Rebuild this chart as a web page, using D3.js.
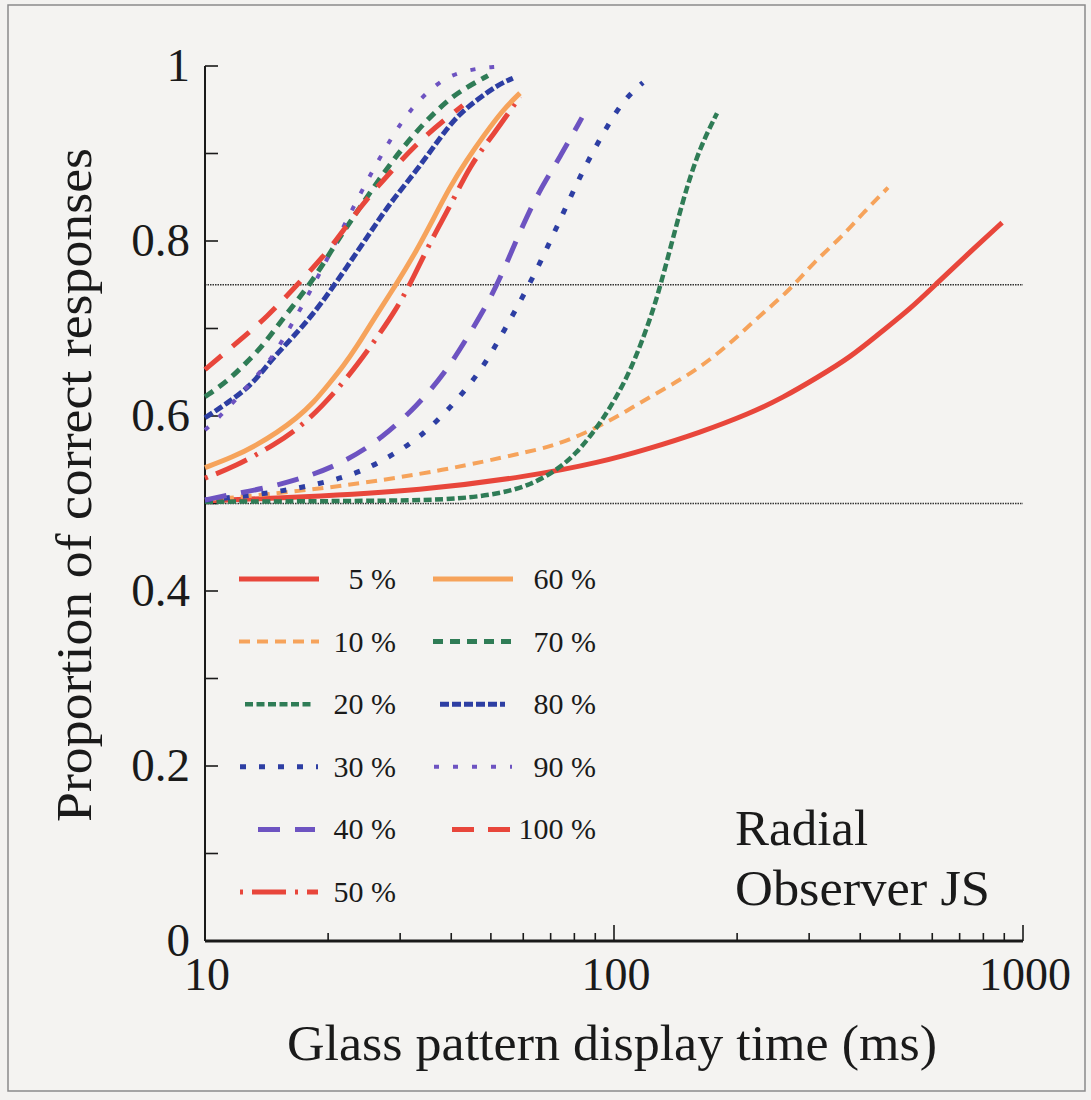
<!DOCTYPE html>
<html>
<head>
<meta charset="utf-8">
<script src="https://cdn.jsdelivr.net/npm/d3@7"></script>
<style>
  body { margin: 0; background: #f3f2f0; }
  svg text { font-family: "Liberation Serif", "DejaVu Serif", serif; fill: #1a1a1a; }
</style>
</head>
<body>
<div id="chart"></div>
<script>
// coherence levels and fitted curves (time in ms, proportion correct)
const labels = ["5 %", "10 %", "20 %", "30 %", "40 %", "50 %", "60 %", "70 %", "80 %", "90 %", "100 %"];

const t5 = [10, 17, 34, 62, 92.4, 122.5, 162, 215, 259, 314, 378, 447, 529, 620, 729, 889];
const p5 = [0.503, 0.507, 0.515, 0.531, 0.547, 0.563, 0.581, 0.603, 0.621, 0.644, 0.667, 0.695, 0.722, 0.753, 0.784, 0.821];

const t10 = [10, 20.2, 39.7, 60, 70, 84, 101.7, 122.5, 147.5, 171.7, 199.8, 231.4, 269.3, 306.6, 357.6, 406.3, 467.7];
const p10 = [0.504, 0.517, 0.539, 0.558, 0.565, 0.579, 0.599, 0.622, 0.643, 0.664, 0.690, 0.718, 0.744, 0.775, 0.803, 0.832, 0.861];

const t20 = [10, 30, 42, 53.5, 62.3, 72.5, 81.2, 88.8, 96.1, 109.4, 122.5, 129.6, 142.6, 150.8, 162.3, 178.6];
const p20 = [0.502, 0.503, 0.505, 0.512, 0.521, 0.538, 0.558, 0.581, 0.603, 0.649, 0.710, 0.747, 0.821, 0.862, 0.907, 0.946];

const t30 = [10, 15, 22.6, 27.5, 33.6, 40.9, 47.8, 53.5, 63, 72.5, 83.5, 93.5, 105.2, 117.7];
const p30 = [0.504, 0.512, 0.530, 0.550, 0.575, 0.615, 0.655, 0.695, 0.755, 0.816, 0.879, 0.921, 0.961, 0.981];

const t40 = [10, 11.5, 14.2, 17.4, 21.7, 27.2, 33.2, 38.6, 43.7, 49.8, 54.7, 59.6, 65.2, 73.8, 83.5];
const p40 = [0.504, 0.510, 0.518, 0.529, 0.546, 0.575, 0.613, 0.649, 0.689, 0.733, 0.775, 0.816, 0.855, 0.896, 0.941];

const t50 = [10, 11.8, 14.8, 17.9, 22, 25.3, 29.5, 32.3, 36.1, 39.7, 44.5, 50.6, 58.9];
const p50 = [0.529, 0.542, 0.567, 0.594, 0.640, 0.678, 0.723, 0.758, 0.805, 0.839, 0.887, 0.921, 0.965];

const t60 = [10, 11.7, 13.4, 15, 16.8, 18.4, 20.2, 21.7, 23.5, 25.8, 29.5, 33, 35.5, 39.7, 43.7, 47.8, 53.5, 58.9];
const p60 = [0.541, 0.553, 0.567, 0.581, 0.598, 0.615, 0.638, 0.656, 0.679, 0.710, 0.752, 0.790, 0.818, 0.862, 0.893, 0.919, 0.950, 0.969];

const t70 = [10, 11.3, 12.5, 13.8, 15.95, 18.4, 21.1, 24.3, 28, 33, 39.1, 43.7, 49.2];
const p70 = [0.622, 0.639, 0.659, 0.679, 0.719, 0.755, 0.801, 0.843, 0.885, 0.927, 0.961, 0.976, 0.989];

const t80 = [10, 11.2, 13, 14.4, 15.5, 17.3, 19.3, 22.2, 25.3, 28.3, 33, 38.2, 42, 46.2, 51.7, 56.6];
const p80 = [0.598, 0.613, 0.635, 0.662, 0.678, 0.702, 0.729, 0.770, 0.809, 0.843, 0.881, 0.923, 0.946, 0.961, 0.978, 0.986];

const t90 = [10, 11.1, 14.4, 15.4, 17.3, 19.3, 23.7, 26.3, 29.5, 32.1, 34.9, 38.6, 42.7, 47.8, 51.2];
const p90 = [0.584, 0.603, 0.662, 0.685, 0.726, 0.767, 0.850, 0.889, 0.929, 0.952, 0.970, 0.986, 0.994, 0.998, 0.999];

const t100 = [10, 11.7, 14.2, 17.1, 20.2, 23.9, 28.3, 34.1, 42.7];
const p100 = [0.653, 0.680, 0.713, 0.754, 0.790, 0.839, 0.878, 0.919, 0.955];

const yTicks = [0, 0.2, 0.4, 0.6, 0.8, 1];
const yMinor = [0.1, 0.3, 0.5, 0.7, 0.9];
const xTicks = [10, 100, 1000];
const refLevels = [0.5, 0.75];

const red = "#e8463b", orange = "#f6a35b", green = "#2f7c56", blue = "#2d3ea3", purple = "#6d53c1";

// leg: start / end of the legend sample line
const series = [
  { label: labels[0], t: t5, p: p5, color: red, width: 5, dash: null, leg: [239, 319] },
  { label: labels[1], t: t10, p: p10, color: orange, width: 4, dash: "11,7", leg: [239, 319] },
  { label: labels[2], t: t20, p: p20, color: green, width: 4.5, dash: "8,3.5", leg: [245, 311] },
  { label: labels[3], t: t30, p: p30, color: blue, width: 5, dash: "6,13", leg: [240, 318] },
  { label: labels[4], t: t40, p: p40, color: purple, width: 5, dash: "22,15", leg: [258, 315] },
  { label: labels[5], t: t50, p: p50, color: red, width: 5, dash: "3,9,34,9", leg: [240, 318] },
  { label: labels[6], t: t60, p: p60, color: orange, width: 5, dash: null, leg: [433, 513] },
  { label: labels[7], t: t70, p: p70, color: green, width: 5, dash: "10,7", leg: [433, 513] },
  { label: labels[8], t: t80, p: p80, color: blue, width: 5, dash: "9,3", leg: [440, 505] },
  { label: labels[9], t: t90, p: p90, color: purple, width: 4, dash: "5,14", leg: [434, 512] },
  { label: labels[10], t: t100, p: p100, color: red, width: 5, dash: "22,14", leg: [452, 511] }
];

const width = 1091, height = 1100;

const svg = d3.select("#chart").append("svg")
  .attr("width", width)
  .attr("height", height);

svg.append("rect")
  .attr("x", 8).attr("y", 5)
  .attr("width", 1077).attr("height", 1086)
  .attr("fill", "#f4f3f1")
  .attr("stroke", "#8a8a8a")
  .attr("stroke-width", 1.5);

const x = d3.scaleLog().domain([10, 1000]).range([205, 1023]);
const y = d3.scaleLinear().domain([0, 1]).range([941, 66]);

// reference lines at chance and threshold
svg.selectAll(".ref")
  .data(refLevels)
  .enter()
  .append("line")
  .attr("x1", x(10)).attr("x2", x(1000))
  .attr("y1", d => y(d)).attr("y2", d => y(d))
  .attr("stroke", "#333")
  .attr("stroke-width", 1.6)
  .attr("stroke-dasharray", "1.5,1");

// y axis
const yAxis = svg.append("g").attr("transform", `translate(${x(10)},0)`);
yAxis.append("line")
  .attr("x1", 0).attr("x2", 0)
  .attr("y1", y(0)).attr("y2", y(1))
  .attr("stroke", "#1a1a1a").attr("stroke-width", 2);
yAxis.selectAll(".tick")
  .data(yTicks.concat(yMinor))
  .enter()
  .append("line")
  .attr("x1", 0).attr("x2", 13)
  .attr("y1", d => y(d)).attr("y2", d => y(d))
  .attr("stroke", "#1a1a1a").attr("stroke-width", 1.6);
yAxis.selectAll(".lbl")
  .data(yTicks)
  .enter()
  .append("text")
  .attr("x", -15)
  .attr("y", d => y(d) + 15)
  .attr("text-anchor", "end")
  .attr("font-size", "47px")
  .text(d => d3.format("~g")(d));

// x axis
const xAxis = svg.append("g").attr("transform", `translate(0,${y(0)})`);
xAxis.append("line")
  .attr("x1", x(10)).attr("x2", x(1000))
  .attr("y1", 0).attr("y2", 0)
  .attr("stroke", "#1a1a1a").attr("stroke-width", 3);
const allX = x.ticks().filter(d => d > 10);
xAxis.selectAll(".tick")
  .data(allX)
  .enter()
  .append("line")
  .attr("x1", d => x(d)).attr("x2", d => x(d))
  .attr("y1", 0)
  .attr("y2", d => xTicks.includes(d) ? -16 : -8)
  .attr("stroke", "#1a1a1a").attr("stroke-width", 1.6);
xAxis.selectAll(".lbl")
  .data(xTicks)
  .enter()
  .append("text")
  .attr("x", d => x(d) + 2)
  .attr("y", 49)
  .attr("text-anchor", "middle")
  .attr("font-size", "46px")
  .text(d => d);

svg.append("text")
  .attr("x", 612).attr("y", 1060)
  .attr("text-anchor", "middle")
  .attr("font-size", "51px")
  .attr("textLength", 650)
  .attr("lengthAdjust", "spacingAndGlyphs")
  .text("Glass pattern display time (ms)");

svg.append("text")
  .attr("transform", "translate(91,485) rotate(-90)")
  .attr("text-anchor", "middle")
  .attr("font-size", "51px")
  .attr("textLength", 674)
  .attr("lengthAdjust", "spacingAndGlyphs")
  .text("Proportion of correct responses");

// curves (smoothed through the read-off points)
const line = d3.line()
  .x(d => x(d[0]))
  .y(d => y(d[1]))
  .curve(d3.curveBasis);

svg.selectAll(".curve")
  .data(series)
  .enter()
  .append("path")
  .attr("d", s => line(s.t.map((t, i) => [t, s.p[i]])))
  .attr("fill", "none")
  .attr("stroke", s => s.color)
  .attr("stroke-width", s => s.width)
  .attr("stroke-dasharray", s => s.dash);

// legend, two columns
const rowY = i => 579 + (i % 6) * 62.6;
const leg = svg.append("g").selectAll(".item")
  .data(series)
  .enter()
  .append("g")
  .attr("transform", (s, i) => `translate(0,${rowY(i < 6 ? i : i - 6)})`);
leg.append("line")
  .attr("x1", s => s.leg[0]).attr("x2", s => s.leg[1])
  .attr("y1", 0).attr("y2", 0)
  .attr("stroke", s => s.color)
  .attr("stroke-width", s => s.width)
  .attr("stroke-dasharray", s => s.dash);
leg.append("text")
  .attr("x", (s, i) => i < 6 ? 396 : 596)
  .attr("y", 10)
  .attr("text-anchor", "end")
  .attr("font-size", "30px")
  .text(s => s.label);

svg.append("text")
  .attr("x", 735).attr("y", 845)
  .attr("font-size", "51px")
  .text("Radial");
svg.append("text")
  .attr("x", 735).attr("y", 905)
  .attr("font-size", "51px")
  .attr("textLength", 255)
  .attr("lengthAdjust", "spacingAndGlyphs")
  .text("Observer JS");
</script>
</body>
</html>
